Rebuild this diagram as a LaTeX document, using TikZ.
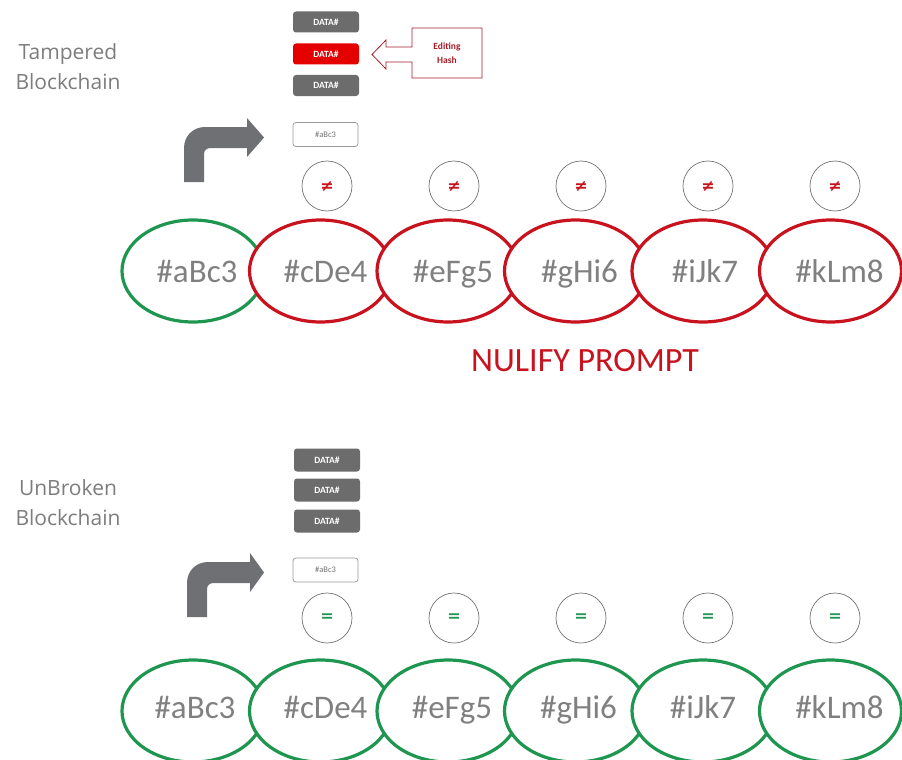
\documentclass[tikz,border=0pt]{standalone}
\usepackage{fontspec}
\setmainfont{Carlito}
\newfontfamily\labfont{Open Sans}
\newfontfamily\symfont{DejaVu Sans}
\usetikzlibrary{shapes.geometric}
\definecolor{cgreen}{RGB}{30,150,80}
\definecolor{cred}{RGB}{200,18,30}
\definecolor{hashgray}{RGB}{128,128,128}
\definecolor{labgray}{RGB}{125,125,125}
\definecolor{datagray}{RGB}{108,108,108}
\definecolor{callred}{RGB}{165,30,40}
\definecolor{arrowgray}{RGB}{110,112,115}
\begin{document}
\begin{tikzpicture}[x=1pt,y=-1pt,
  chainbox/.style={ellipse, line width=3.2pt, fill=white, minimum width=142pt, minimum height=102pt, inner sep=0pt},
  gchain/.style={chainbox, draw=cgreen},
  rchain/.style={chainbox, draw=cred},
  hashtxt/.style={font=\fontsize{33}{36}\selectfont, text=hashgray, text height=22pt, text depth=0pt, inner sep=0pt},
  datab/.style={rectangle, rounded corners=3pt, fill=datagray, minimum width=66pt, minimum height=21pt, inner sep=0pt, text=white, font=\bfseries\fontsize{9.5}{10}\selectfont},
  datared/.style={datab, fill=red!90!black},
  prevbox/.style={rectangle, rounded corners=3pt, draw=black!40, line width=0.7pt, fill=white, minimum width=65pt, minimum height=24pt, inner sep=0pt, text=black!55, font=\fontsize{8.5}{9}\selectfont},
  cmpcirc/.style={circle, draw=black!55, line width=0.7pt, minimum size=50pt, inner sep=0pt, font=\symfont\bfseries\fontsize{16}{17}\selectfont},
  sidelab/.style={align=center, text=labgray, font=\labfont\fontsize{21}{30}\selectfont},
  bentarrow/.style={fill=arrowgray}
]
\useasboundingbox (0,0) rectangle (902,760);

% ---------------- Tampered blockchain ----------------
\node[sidelab] (labT) at (68,67) {Tampered\\Blockchain};

\node[datab] (dT1) at (326,22) {DATA\#};
\node[datared] (dT2) at (326,54) {DATA\#};
\node[datab] (dT3) at (326,85.5) {DATA\#};

% Editing Hash callout
\draw[callred, line width=0.8pt, fill=white]
  (412,28) -- (412,47) -- (386,47) -- (386,40) -- (372,54.5) -- (386,69) -- (386,62) -- (412,62)
  -- (412,78) -- (482,78) -- (482,28) -- cycle;
\node[align=center, text=callred, font=\bfseries\fontsize{9.5}{14}\selectfont] (edit) at (447,53) {Editing\\Hash};

\node[prevbox] (pT) at (325.5,134.5) {\#aBc3};

% bent arrow top
\fill[bentarrow] (184,182) -- (184,148) .. controls (184,136) and (193,127) .. (205,127)
  -- (247,127) -- (247,118) -- (264,137.5) -- (247,157) -- (247,148) -- (211,148)
  .. controls (207,148) and (204,150) .. (204,154) -- (204,182) -- cycle;

\foreach \i [evaluate=\i as \cx using 327+127*\i] in {0,...,4}{
  \node[cmpcirc, text=cred] (neq\i) at (\cx,186) {≠};
}

\node[gchain, label={[hashtxt,xshift=4pt]center:\#aBc3}] (t1) at (193,271) {};
\node[rchain, label={[hashtxt,xshift=5pt]center:\#cDe4}] (t2) at (320.5,271) {};
\node[rchain, label={[hashtxt,xshift=5pt]center:\#eFg5}] (t3) at (448,271) {};
\node[rchain, label={[hashtxt,xshift=4pt]center:\#gHi6}] (t4) at (575.5,271) {};
\node[rchain, label={[hashtxt,xshift=2pt]center:\#iJk7}] (t5) at (703,271) {};
\node[rchain, label={[hashtxt,xshift=9pt]center:\#kLm8}] (t6) at (830.5,271) {};

\node[text=cred, font=\fontsize{34}{36}\selectfont] (nul) at (585,361) {NULIFY PROMPT};

% ---------------- Unbroken blockchain ----------------
\node[sidelab] (labU) at (68,503) {UnBroken\\Blockchain};

\node[datab, minimum height=23pt] (dU1) at (327,460) {DATA\#};
\node[datab, minimum height=23pt] (dU2) at (327,490) {DATA\#};
\node[datab, minimum height=23pt] (dU3) at (327,521) {DATA\#};

\node[prevbox] (pU) at (325.5,570) {\#aBc3};

% bent arrow bottom
\begin{scope}[shift={(3,435)}]
\fill[bentarrow] (184,182) -- (184,148) .. controls (184,136) and (193,127) .. (205,127)
  -- (247,127) -- (247,118) -- (261,137.5) -- (247,157) -- (247,148) -- (211,148)
  .. controls (207,148) and (204,150) .. (204,154) -- (204,182) -- cycle;
\end{scope}

\foreach \i [evaluate=\i as \cx using 327+127*\i] in {0,...,4}{
  \node[cmpcirc, text=cgreen] (eq\i) at (\cx,618) {=};
}

\node[gchain, label={[hashtxt,xshift=2pt,yshift=4pt]center:\#aBc3}] (b1) at (193,711) {};
\node[gchain, label={[hashtxt,xshift=5pt,yshift=4pt]center:\#cDe4}] (b2) at (320.5,711) {};
\node[gchain, label={[hashtxt,xshift=4pt,yshift=4pt]center:\#eFg5}] (b3) at (448,711) {};
\node[gchain, label={[hashtxt,xshift=3pt,yshift=4pt]center:\#gHi6}] (b4) at (575.5,711) {};
\node[gchain, label={[hashtxt,xshift=0pt,yshift=4pt]center:\#iJk7}] (b5) at (703,711) {};
\node[gchain, label={[hashtxt,xshift=9pt,yshift=4pt]center:\#kLm8}] (b6) at (830.5,711) {};

\end{tikzpicture}
\end{document}
